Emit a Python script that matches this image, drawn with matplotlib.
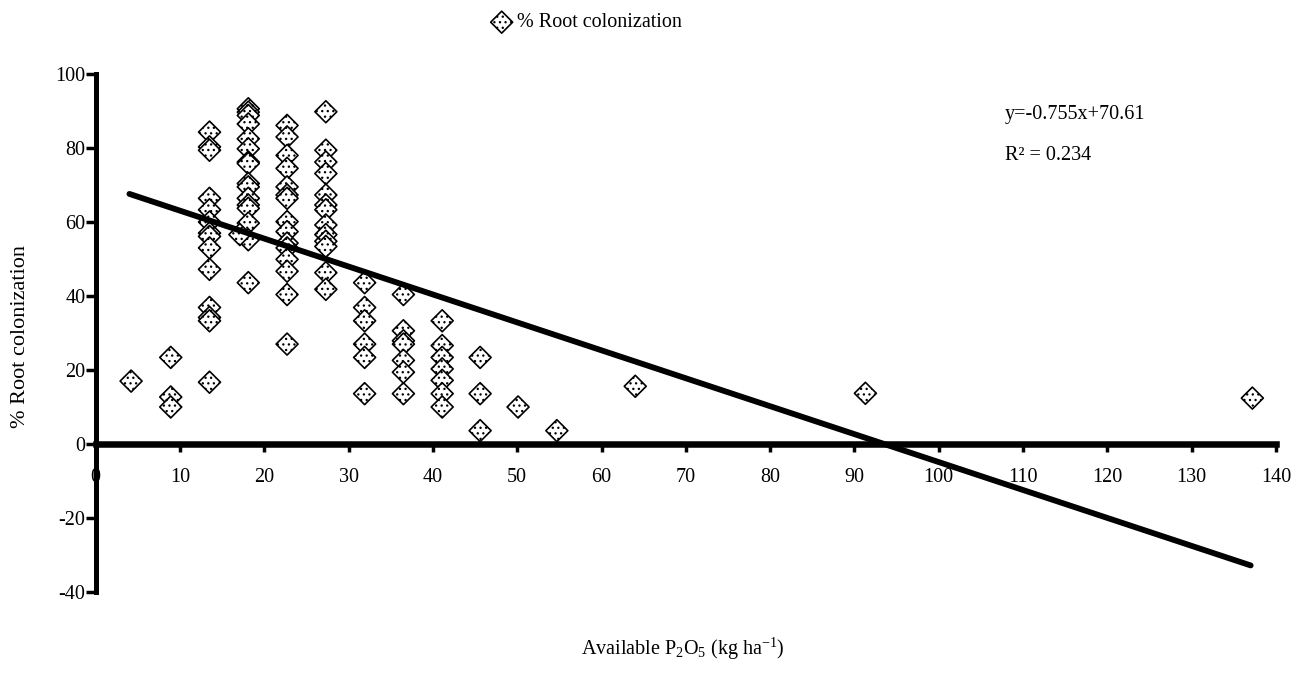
import numpy as np
import matplotlib
matplotlib.use("Agg")
import matplotlib.pyplot as plt

plt.rcParams['font.family'] = ['Liberation Serif', 'DejaVu Serif']
plt.rcParams['mathtext.fontset'] = 'custom'
plt.rcParams['mathtext.rm'] = 'Liberation Serif'
plt.rcParams['mathtext.it'] = 'Liberation Serif:italic'
plt.rcParams['axes.unicode_minus'] = False
plt.rcParams['hatch.linewidth'] = 0.9

# === data: available P2O5 levels and % root colonization ===
p_levels = [4.2, 8.9, 13.5, 18.1, 22.7, 27.3, 31.9, 36.5, 41.1, 45.6, 50.1, 54.7, 64.0, 91.3, 137.2]
colonization = [
    [17.0],
    [23.4, 12.7, 10.0],
    [84.3, 80.3, 79.4, 66.4, 63.3, 60.0, 57.0, 56.1, 53.0, 47.2, 36.9, 34.2, 33.3, 16.7],
    [90.6, 89.7, 88.8, 86.5, 82.5, 79.8, 76.2, 75.8, 70.4, 69.5, 66.4, 64.6, 63.7, 59.7, 55.2, 43.6],
    [86.1, 83.0, 78.0, 74.5, 69.5, 67.3, 66.4, 60.1, 57.4, 54.3, 53.0, 49.9, 46.7, 40.4, 27.0],
    [89.8, 79.4, 76.2, 73.1, 67.3, 64.6, 63.3, 59.2, 56.6, 54.8, 53.4, 46.3, 41.8],
    [43.6, 36.9, 33.3, 27.0, 23.4, 13.6],
    [40.4, 30.6, 27.9, 27.0, 22.6, 19.4, 13.6],
    [33.3, 26.6, 23.4, 20.3, 17.2, 13.6, 10.0],
    [23.4, 13.6, 3.6],
    [10.0],
    [3.6],
    [15.6],
    [13.7],
    [12.4],
]
# one point sits slightly left of the 18 column
extra_x = [17.1]
extra_y = [56.6]

slope, intercept = -0.755, 70.61
r2 = 0.234
line_x = [4.0, 137.0]

x = np.concatenate([[p] * len(v) for p, v in zip(p_levels, colonization)] + [extra_x])
y = np.concatenate(colonization + [extra_y])

fig = plt.figure(figsize=(12.95, 6.74), dpi=100)
ax = fig.add_axes([0.0739, 0.1217, 0.9114, 0.7685])

ax.scatter(x, y, marker='D', s=125, facecolor='white', edgecolor='black',
           linewidths=1.2, hatch='...', zorder=3, label='% Root colonization')
lx = np.array(line_x)
ax.plot(lx, slope * lx + intercept, color='black', lw=4.2, zorder=4, solid_capstyle='round')

ax.set_xlim(0, 140)
ax.set_ylim(-40, 100)
ax.set_xticks(range(0, 141, 10))
ax.set_yticks(range(-40, 101, 20))

ax.spines['top'].set_visible(False)
ax.spines['right'].set_visible(False)
ax.spines['bottom'].set_position(('data', 0))
ax.spines['bottom'].set_linewidth(4.7)
ax.spines['left'].set_linewidth(3.6)
ax.tick_params(axis='y', direction='out', length=7, width=2.5, labelsize=14.5, pad=0.5)
ax.tick_params(axis='x', direction='out', length=6, width=2.5, labelsize=14.5, pad=11)
for lab in ax.get_xticklabels():
    lab.set_zorder(1)

ax.text(107.8, 89.0, f'y={slope}x+{intercept}', fontsize=14.5, va='center')
ax.text(107.8, 78.0, f'R² = {r2}', fontsize=14.5, va='center')

fig.text(0.0155, 0.50, '% Root colonization', rotation=90, ha='center', va='center', fontsize=16)
fig.text(0.527, 0.018, 'Available P$_2$O$_5$ (kg ha$^{\\mathrm{-1}}$)', ha='center', va='bottom', fontsize=14.5)

ax.legend(loc='center', bbox_to_anchor=(0.453, 0.966), bbox_transform=fig.transFigure,
          frameon=False, fontsize=14.5, handlelength=1.0, handletextpad=0.25,
          borderpad=0.2, scatterpoints=1)

fig.savefig('out.png', dpi=100)
